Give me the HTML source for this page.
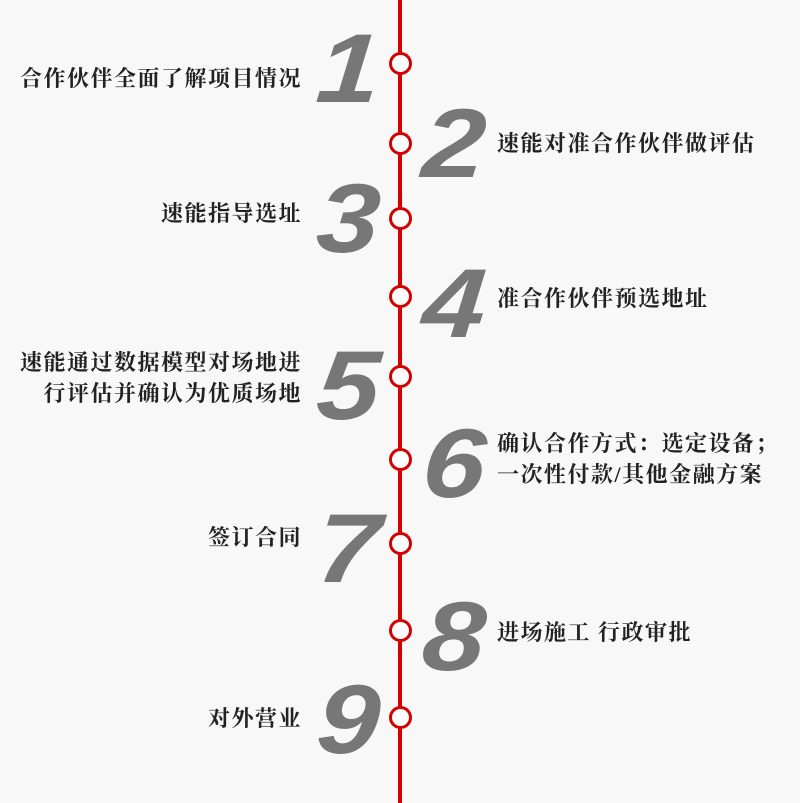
<!DOCTYPE html>
<html><head><meta charset="utf-8"><style>
html,body{margin:0;padding:0}
body{width:800px;height:803px;background:#f8f8f8;position:relative;overflow:hidden}
.line{position:absolute;left:398px;top:0;width:4px;height:803px;background:#d40000}
.c{position:absolute;width:17px;height:17px;border:3px solid #d40000;background:#fff;border-radius:50%;left:389px}
.n{position:absolute;font:italic bold 98px/1 "Liberation Sans",sans-serif;color:#777;width:120px;transform:scaleX(1.15) skewX(-4deg)}
.nl{left:260px;text-align:right;transform-origin:right center}
.nr{left:423px;transform-origin:left center}
.t{position:absolute;font:bold 22px/31px "Liberation Serif","Noto Serif CJK SC",serif;letter-spacing:1.5px;color:#222;white-space:nowrap}
.tl{right:498px;text-align:right}
.tr{left:497px}
</style></head><body>
<div class="line"></div>
<div class="c" style="top:52px"></div>
<div class="c" style="top:132px"></div>
<div class="c" style="top:207px"></div>
<div class="c" style="top:285px"></div>
<div class="c" style="top:365px"></div>
<div class="c" style="top:448px"></div>
<div class="c" style="top:532px"></div>
<div class="c" style="top:619px"></div>
<div class="c" style="top:706px"></div>

<div class="n nl" style="top:19px">1</div>
<div class="n nr" style="top:94px">2</div>
<div class="n nl" style="top:169px">3</div>
<div class="n nr" style="top:254px">4</div>
<div class="n nl" style="top:336px">5</div>
<div class="n nr" style="top:414px">6</div>
<div class="n nl" style="top:499px">7</div>
<div class="n nr" style="top:587px">8</div>
<div class="n nl" style="top:670px">9</div>

<div class="t tl" style="top:63px">合作伙伴全面了解项目情况</div>
<div class="t tr" style="top:128px">速能对准合作伙伴做评估</div>
<div class="t tl" style="top:198px">速能指导选址</div>
<div class="t tr" style="top:283px">准合作伙伴预选地址</div>
<div class="t tl" style="top:347px">速能通过数据模型对场地进<br>行评估并确认为优质场地</div>
<div class="t tr" style="top:428px">确认合作方式：选定设备；<br>一次性付款/其他金融方案</div>
<div class="t tl" style="top:522px">签订合同</div>
<div class="t tr" style="top:617px">进场施工 行政审批</div>
<div class="t tl" style="top:703px">对外营业</div>
</body></html>
